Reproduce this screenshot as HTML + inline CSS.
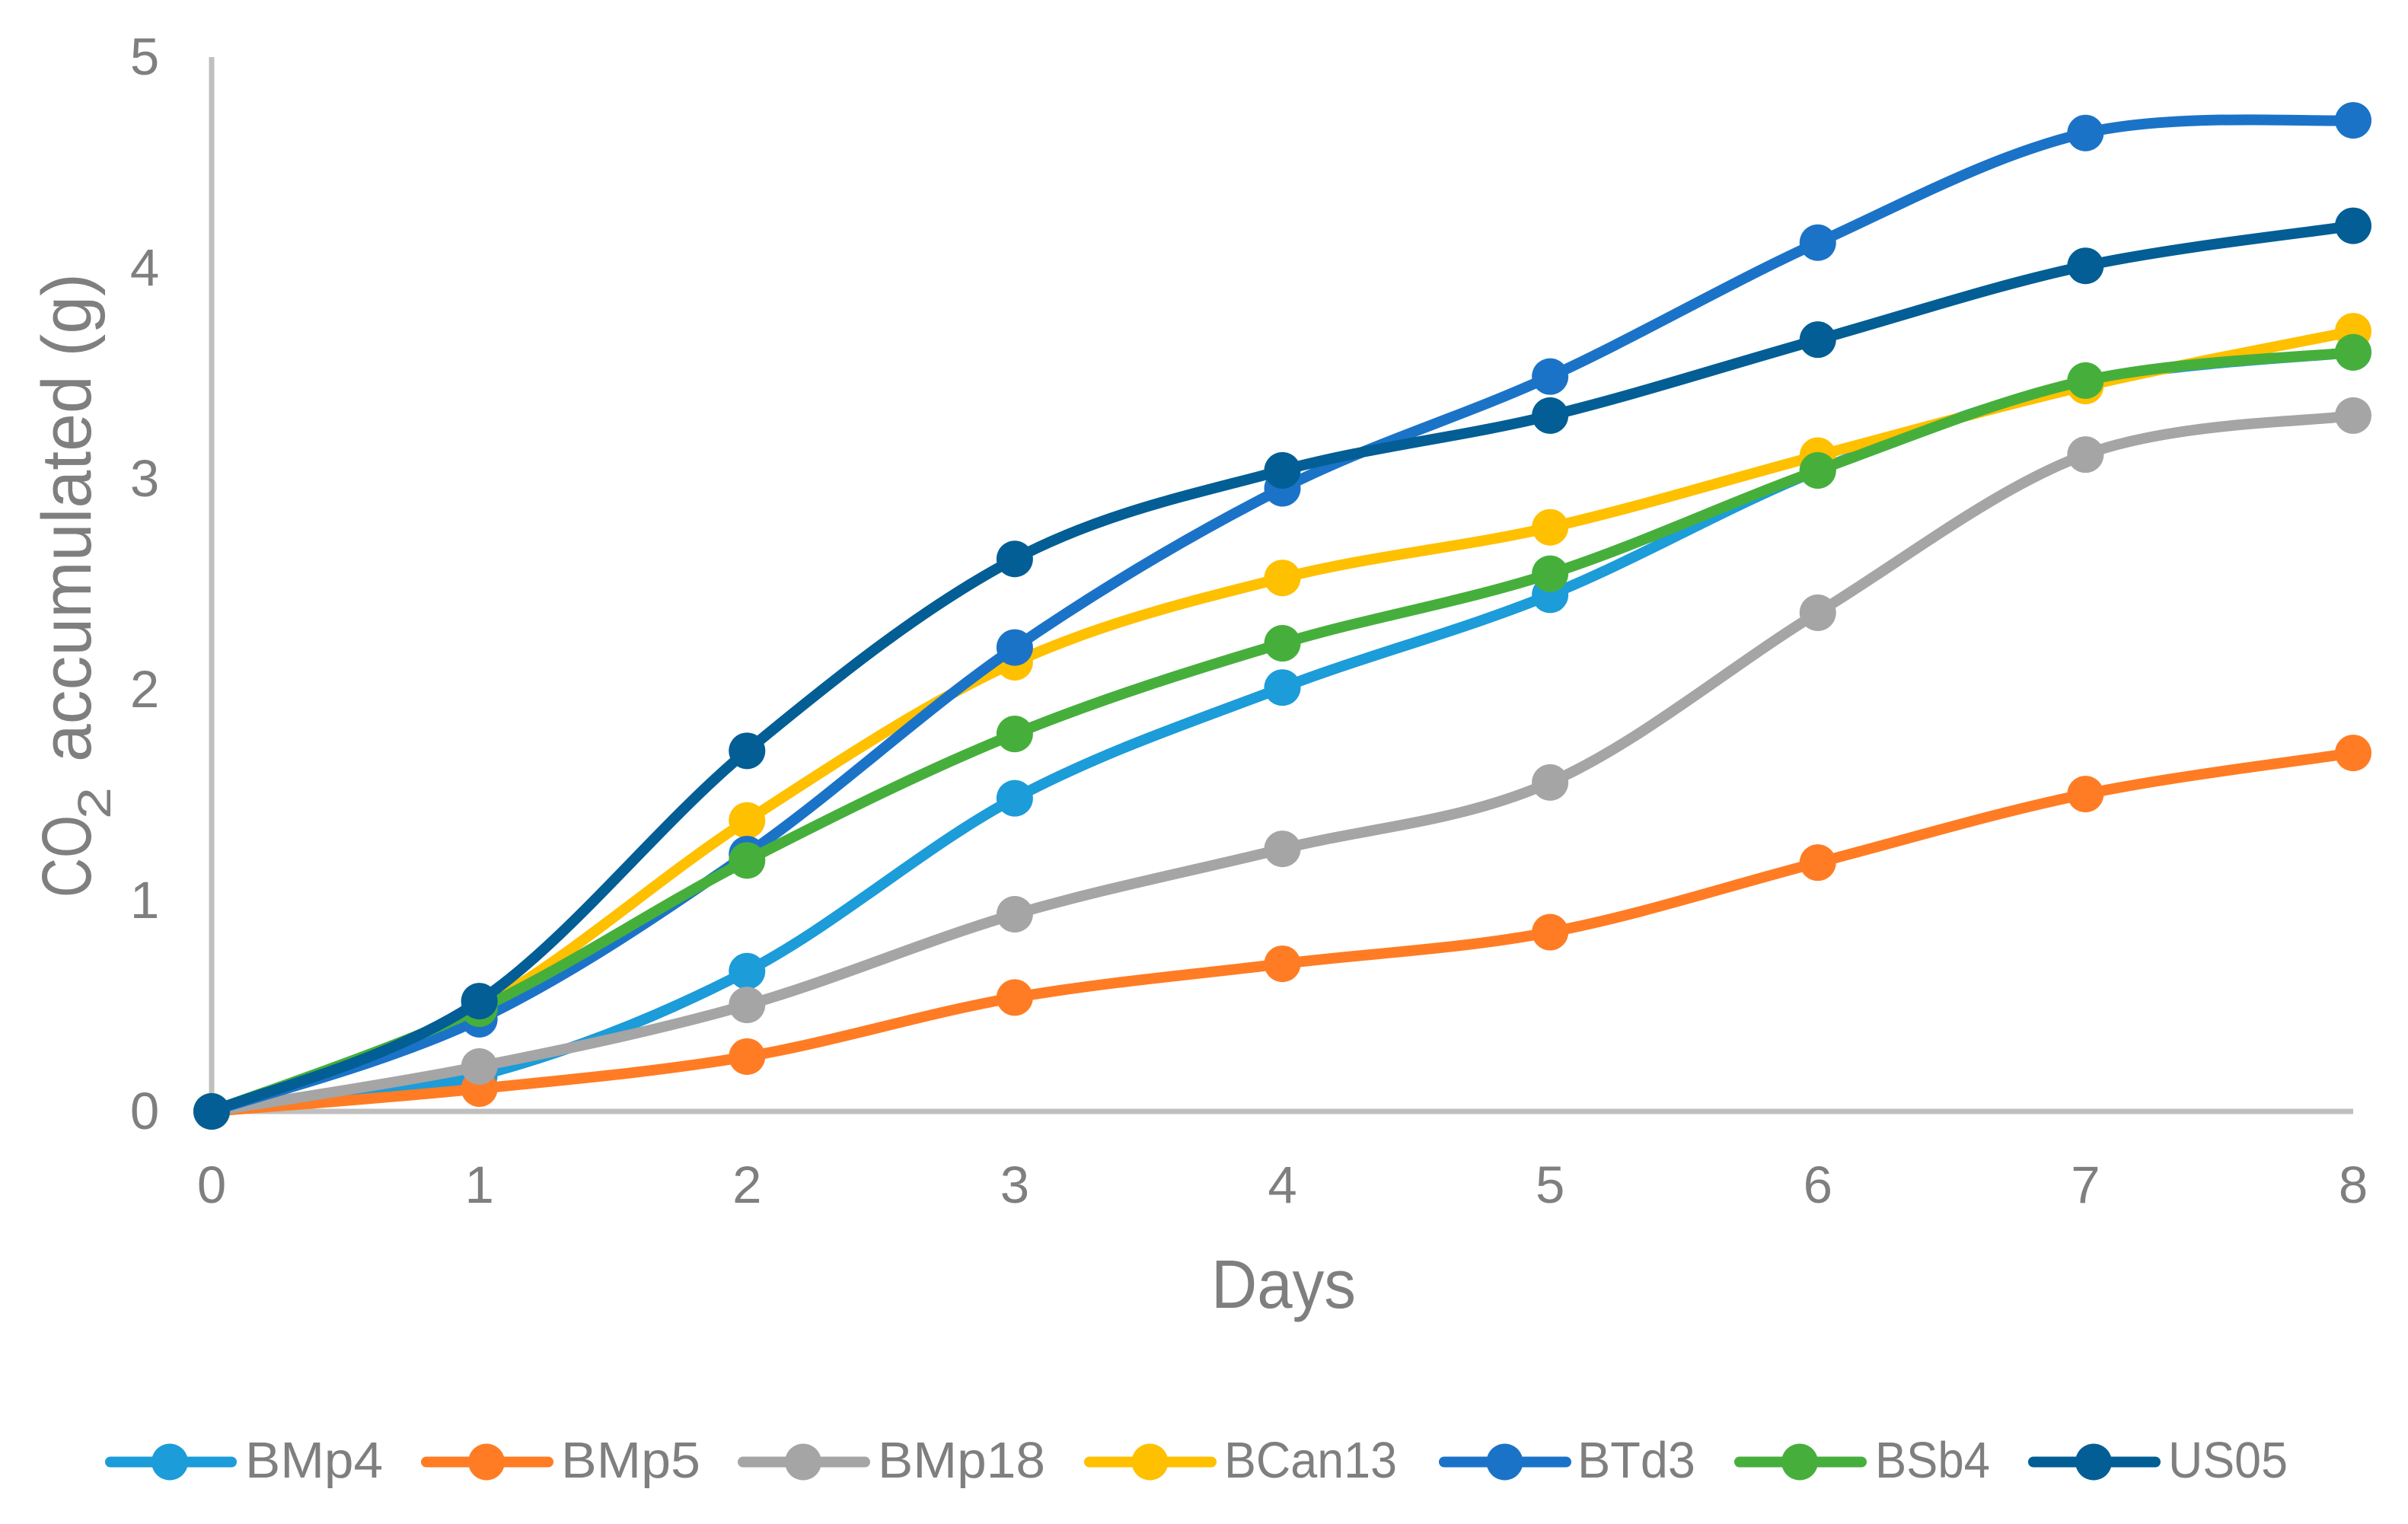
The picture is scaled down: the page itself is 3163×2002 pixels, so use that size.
<!DOCTYPE html>
<html lang="en">
<head>
<meta charset="utf-8">
<title>CO2 accumulated by strain</title>
<style>
  html, body { margin: 0; padding: 0; background: #fff; }
  svg { display: block; }
  text { font-family: "Liberation Sans", sans-serif; fill: #7f7f7f; }
  .s0 { stroke: #1c9cd8; fill: #1c9cd8; }
  .s1 { stroke: #ff7c24; fill: #ff7c24; }
  .s2 { stroke: #a5a5a5; fill: #a5a5a5; }
  .s3 { stroke: #ffc000; fill: #ffc000; }
  .s4 { stroke: #1b73c8; fill: #1b73c8; }
  .s5 { stroke: #46af3c; fill: #46af3c; }
  .s6 { stroke: #025e94; fill: #025e94; }
  .curve { fill: none; stroke-width: 14; stroke-linecap: round; stroke-linejoin: round; }
  .point { stroke: none; }
  .key { fill: none; stroke-width: 14; stroke-linecap: round; }
  .keydot { stroke: none; }
</style>
</head>
<body>
<svg id="chart" xmlns="http://www.w3.org/2000/svg" width="3163" height="2002" viewBox="0 0 3163 2002">
  <rect width="3163" height="2002" fill="#ffffff"/>
  <g id="axes"></g>
  <g id="series"></g>

  <g transform="translate(119,1179) rotate(-90)">
    <text x="0" y="0" font-size="92" textLength="108" lengthAdjust="spacingAndGlyphs">CO</text>
    <text x="103" y="26" font-size="61" textLength="42" lengthAdjust="spacingAndGlyphs">2</text>
    <text x="178" y="0" font-size="92" textLength="642" lengthAdjust="spacingAndGlyphs">accumulated (g)</text>
  </g>
  <text x="1591" y="1718" font-size="90" textLength="190" lengthAdjust="spacingAndGlyphs">Days</text>

  <g>
    <g>
      <line class="key s0" x1="145" y1="1920.5" x2="304" y2="1920.5"/>
      <circle class="keydot s0" cx="223" cy="1920.5" r="24"/>
      <text x="322" y="1941" font-size="67" textLength="181" lengthAdjust="spacingAndGlyphs">BMp4</text>
    </g>
    <g>
      <line class="key s1" x1="560" y1="1920.5" x2="720" y2="1920.5"/>
      <circle class="keydot s1" cx="639" cy="1920.5" r="24"/>
      <text x="737" y="1941" font-size="67" textLength="183" lengthAdjust="spacingAndGlyphs">BMp5</text>
    </g>
    <g>
      <line class="key s2" x1="976" y1="1920.5" x2="1136" y2="1920.5"/>
      <circle class="keydot s2" cx="1055" cy="1920.5" r="24"/>
      <text x="1153" y="1941" font-size="67" textLength="220" lengthAdjust="spacingAndGlyphs">BMp18</text>
    </g>
    <g>
      <line class="key s3" x1="1431" y1="1920.5" x2="1591" y2="1920.5"/>
      <circle class="keydot s3" cx="1510.5" cy="1920.5" r="24"/>
      <text x="1608" y="1941" font-size="67" textLength="227" lengthAdjust="spacingAndGlyphs">BCan13</text>
    </g>
    <g>
      <line class="key s4" x1="1897" y1="1920.5" x2="2057" y2="1920.5"/>
      <circle class="keydot s4" cx="1976.5" cy="1920.5" r="24"/>
      <text x="2072" y="1941" font-size="67" textLength="155" lengthAdjust="spacingAndGlyphs">BTd3</text>
    </g>
    <g>
      <line class="key s5" x1="2285" y1="1920.5" x2="2445" y2="1920.5"/>
      <circle class="keydot s5" cx="2364" cy="1920.5" r="24"/>
      <text x="2463" y="1941" font-size="67" textLength="151" lengthAdjust="spacingAndGlyphs">BSb4</text>
    </g>
    <g>
      <line class="key s6" x1="2671" y1="1920.5" x2="2831" y2="1920.5"/>
      <circle class="keydot s6" cx="2750" cy="1920.5" r="24"/>
      <text x="2848" y="1941" font-size="67" textLength="157" lengthAdjust="spacingAndGlyphs">US05</text>
    </g>
  </g>
</svg>

<script>
const days = [0, 1, 2, 3, 4, 5, 6, 7, 8];
const yTicks = [0, 1, 2, 3, 4, 5];
const seriesNames = ["BMp4", "BMp5", "BMp18", "BCan13", "BTd3", "BSb4", "US05"];
const bmp4 = [0, 0.17, 0.665, 1.485, 2.01, 2.45, 3.04, 3.46, 3.6];
const bmp5 = [0, 0.108, 0.26, 0.54, 0.7, 0.85, 1.18, 1.505, 1.7];
const bmp18 = [0, 0.213, 0.505, 0.935, 1.245, 1.56, 2.365, 3.115, 3.3];
const bcan13 = [0, 0.49, 1.38, 2.13, 2.53, 2.77, 3.11, 3.44, 3.7];
const btd3 = [0, 0.437, 1.22, 2.2, 2.955, 3.485, 4.12, 4.64, 4.7];
const bsb4 = [0, 0.487, 1.19, 1.79, 2.22, 2.55, 3.04, 3.466, 3.6];
const us05 = [0, 0.523, 1.71, 2.62, 3.04, 3.3, 3.66, 4.01, 4.2];
const allSeries = [bmp4, bmp5, bmp18, bcan13, btd3, bsb4, us05];

const NS = "http://www.w3.org/2000/svg";
const xLeft = 278, xRight = 3091, yBottom = 1460, yTop = 75;
const xMax = days[days.length - 1], yMax = yTicks[yTicks.length - 1];

function xScale(d) { return xLeft + (xRight - xLeft) * d / xMax; }
function yScale(v) { return yBottom - (yBottom - yTop) * v / yMax; }

function smoothPath(values) {
  const pts = values.map(function (v, i) { return [xScale(days[i]), yScale(v)]; });
  let d = "M" + pts[0][0].toFixed(1) + " " + pts[0][1].toFixed(1);
  for (let i = 0; i < pts.length - 1; i++) {
    const p0 = pts[Math.max(i - 1, 0)], p1 = pts[i], p2 = pts[i + 1], p3 = pts[Math.min(i + 2, pts.length - 1)];
    const c1x = p1[0] + (p2[0] - p0[0]) / 6, c1y = p1[1] + (p2[1] - p0[1]) / 6;
    const c2x = p2[0] - (p3[0] - p1[0]) / 6, c2y = p2[1] - (p3[1] - p1[1]) / 6;
    d += "C" + c1x.toFixed(1) + " " + c1y.toFixed(1) + " " + c2x.toFixed(1) + " " + c2y.toFixed(1) + " " + p2[0].toFixed(1) + " " + p2[1].toFixed(1);
  }
  return d;
}

const axes = document.getElementById("axes");

const yAxisLine = document.createElementNS(NS, "line");


yAxisLine.setAttribute("x1", xLeft);
yAxisLine.setAttribute("x2", xLeft);
yAxisLine.setAttribute("y1", yTop);
yAxisLine.setAttribute("y2", yBottom + 3.5);
yAxisLine.setAttribute("stroke", "#bfbfbf");
yAxisLine.setAttribute("stroke-width", "7");
axes.appendChild(yAxisLine);

const xAxisLine = document.createElementNS(NS, "line");


xAxisLine.setAttribute("x1", xLeft);
xAxisLine.setAttribute("x2", xRight);
xAxisLine.setAttribute("y1", yBottom);
xAxisLine.setAttribute("y2", yBottom);
xAxisLine.setAttribute("stroke", "#bfbfbf");
xAxisLine.setAttribute("stroke-width", "7");
axes.appendChild(xAxisLine);

yTicks.forEach(function (t) {
  const label = document.createElementNS(NS, "text");
  
  
  label.setAttribute("x", 190);
  label.setAttribute("y", yScale(t) + 23);
  label.setAttribute("font-size", "69");
  label.setAttribute("text-anchor", "middle");
  label.textContent = t;
  axes.appendChild(label);
});

days.forEach(function (d) {
  const label = document.createElementNS(NS, "text");
  
  
  label.setAttribute("x", xScale(d));
  label.setAttribute("y", 1580);
  label.setAttribute("font-size", "69");
  label.setAttribute("text-anchor", "middle");
  label.textContent = d;
  axes.appendChild(label);
});

const seriesRoot = document.getElementById("series");
allSeries.forEach(function (values, s) {
  const group = document.createElementNS(NS, "g");
  
  

  const path = document.createElementNS(NS, "path");
  
  
  path.setAttribute("class", "curve s" + s);
  path.setAttribute("d", smoothPath(values));
  group.appendChild(path);

  values.forEach(function (v, i) {
    const dot = document.createElementNS(NS, "circle");
    
    
    dot.setAttribute("class", "point s" + s);
    dot.setAttribute("cx", xScale(days[i]));
    dot.setAttribute("cy", yScale(v));
    dot.setAttribute("r", 24);
    group.appendChild(dot);
  });

  seriesRoot.appendChild(group);
});
</script>
</body>
</html>
